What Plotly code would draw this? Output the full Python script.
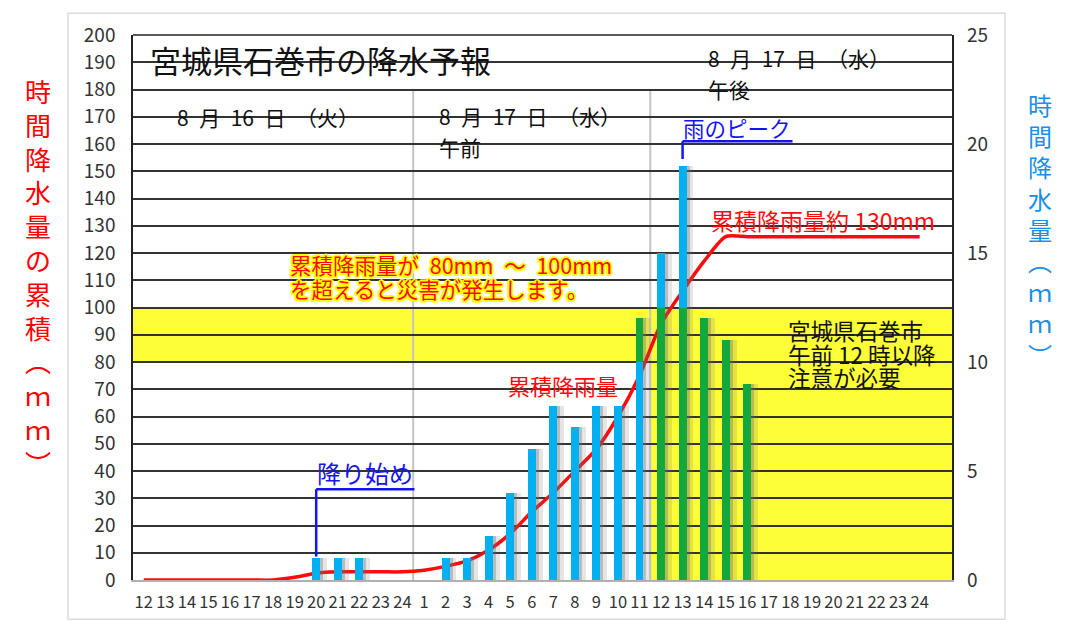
import plotly.graph_objects as go

# ---------------- data ----------------
hour_labels = [str(h) for h in range(12, 25)] + [str(h) for h in range(1, 25)]
# hourly precipitation (mm/h), right axis
rain_mm = [0, 0, 0, 0, 0, 0, 0, 0, 1, 1, 1, 0, 0,
           0, 1, 1, 2, 4, 6, 8, 7, 8, 8, 12, 15, 19, 12, 11, 9,
           0, 0, 0, 0, 0, 0, 0, 0]
# accumulated precipitation (mm), left axis
cum_mm = [0, 0, 0, 0, 0, 0, 0, 1, 2.5, 3, 3, 3, 3,
          3.6, 5, 7, 11, 17, 25, 32, 40, 48, 60, 75, 94, 106, 117,
          126, 126, 126, 126, 126, 126, 126, 126, 126, 126]
left_ticks = list(range(0, 201, 10))
right_ticks = list(range(0, 26, 5))

# ---------------- styles ----------------
FONT = "Noto Sans CJK JP"
BLUE_BAR = "#00b0f0"
GREEN_BAR = "#13a83b"
YELLOW = "#fdfd38"
RED = "#ff0a0a"
BLUE_TXT = "#1414f0"
RATIO = 8.0            # left / right axis scale
warn_lo, warn_hi = 80, 100      # full width yellow band (left axis units)
pm_start = 23.5                 # yellow to the ground from here on

x = list(range(len(hour_labels)))

# green part of bars = overlap of bar with yellow region
green_base, green_h = [], []
for i, v in enumerate(rain_mm):
    lo = 0 if i > pm_start else warn_lo / RATIO
    hi = warn_hi / RATIO
    h = max(0.0, min(v, hi) - lo)
    green_base.append(lo)
    green_h.append(h)

fig = go.Figure()

BW = 0.37
# shadows
fig.add_trace(go.Bar(x=x, y=rain_mm, yaxis="y2", width=0.34, offset=BW / 2 - 0.02,
                     marker=dict(color="rgba(110,110,110,0.18)", line=dict(width=0)),
                     hoverinfo="skip", showlegend=False))
fig.add_trace(go.Bar(x=x, y=rain_mm, yaxis="y2", width=0.16, offset=BW / 2 - 0.02,
                     marker=dict(color="rgba(110,110,110,0.35)", line=dict(width=0)),
                     hoverinfo="skip", showlegend=False))
# bars
fig.add_trace(go.Bar(x=x, y=rain_mm, yaxis="y2", width=BW, offset=-BW / 2,
                     marker=dict(color=BLUE_BAR, line=dict(width=0)), showlegend=False))
fig.add_trace(go.Bar(x=x, y=green_h, base=green_base, yaxis="y2", width=BW, offset=-BW / 2,
                     marker=dict(color=GREEN_BAR, line=dict(width=0)), showlegend=False))
# accumulated line
fig.add_trace(go.Scatter(x=x, y=cum_mm, yaxis="y", mode="lines",
                         line=dict(color=RED, width=3.5, shape="spline", smoothing=0.7),
                         showlegend=False))

shapes = [
    dict(type="rect", xref="paper", yref="y", x0=0, x1=1, y0=warn_lo, y1=warn_hi,
         fillcolor=YELLOW, line=dict(width=0), layer="below"),
    dict(type="rect", xref="x", yref="y", x0=pm_start, x1=len(hour_labels) + 0.5, y0=0, y1=warn_lo,
         fillcolor=YELLOW, line=dict(width=0), layer="below"),
    dict(type="line", xref="x", yref="y", x0=12.5, x1=12.5, y0=0, y1=180,
         line=dict(color="#c4c4c4", width=2), layer="below"),
    dict(type="line", xref="x", yref="y", x0=pm_start, x1=pm_start, y0=0, y1=180,
         line=dict(color="#c4c4c4", width=2), layer="below"),
    # top border
    dict(type="line", xref="paper", yref="paper", x0=0, x1=1, y0=1, y1=1,
         line=dict(color="#222", width=1.5)),
    # outer frame
    dict(type="rect", xref="paper", yref="paper", x0=-0.0794, x1=1.0647, y0=-0.072, y1=1.0398,
         line=dict(color="#dcdcdc", width=1.5)),
    # brackets
    dict(type="line", xref="x", yref="y", x0=8.0, x1=12.56, y0=33.3, y1=33.3,
         line=dict(color=BLUE_TXT, width=2.5)),
    dict(type="line", xref="x", yref="y", x0=8.0, x1=8.0, y0=33.3, y1=8.6,
         line=dict(color=BLUE_TXT, width=2.5)),
    dict(type="line", xref="x", yref="y", x0=25.0, x1=30.1, y0=161, y1=161,
         line=dict(color=BLUE_TXT, width=2.5)),
    dict(type="line", xref="x", yref="y", x0=25.0, x1=25.0, y0=161, y1=154.5,
         line=dict(color=BLUE_TXT, width=2.5)),
]

SP = "\u2002"
def ann(text, xv, yv, size, color="#111", **kw):
    d = dict(text=text, x=xv, y=yv, xref="x", yref="y", showarrow=False,
             xanchor="left", yanchor="middle", align="left",
             font=dict(family=FONT, size=size, color=color))
    d.update(kw)
    return d

def block(lines, glyph_px, pitch_px):
    """multi-line text whose line pitch is set independently of glyph size"""
    body = "<br>".join(f"<span style='font-size:{glyph_px}px'>{ln}</span>" for ln in lines)
    return body, pitch_px / 1.3

yl_shadow = ", ".join(f"{a}px {b}px 0 #ffff00" for a, b in
                      [(2, 0), (-2, 0), (0, 2), (0, -2), (1.5, 1.5), (-1.5, -1.5), (1.5, -1.5), (-1.5, 1.5)])

am_txt, am_sz = block([f"8{SP}月{SP}17{SP}日{SP}（水）", "午前"], 21, 31)
pm_txt, pm_sz = block([f"8{SP}月{SP}17{SP}日{SP}（水）", "午後"], 21, 30.5)
warn_txt, warn_sz = block([f"累積降雨量が{SP}80mm{SP}～{SP}100mm", "を超えると災害が発生します。"], 21.5, 24)
city_txt, city_sz = block(["宮城県石巻市", "午前 12 時以降", "注意が必要"], 22.5, 23.5)

annotations = [
    ann("宮城県石巻市の降水予報", 0.19, 191, 31),
    ann(f"8{SP}月{SP}16{SP}日{SP}（火）", 1.44, 170, 21),
    ann(am_txt, 13.62, 164.5, am_sz),
    ann(pm_txt, 26.07, 186.0, pm_sz),
    ann("雨のピーク", 24.92, 166, 21.5, BLUE_TXT),
    ann("降り始め", 7.93, 39.4, 24, BLUE_TXT),
    ann("累積降雨量", 16.81, 71.6, 22, RED),
    ann("累積降雨量約 130mm", 26.21, 132, 23, RED),
    ann(warn_txt, 6.68, 111.5, warn_sz, RED),
    ann(city_txt, 29.78, 83.2, city_sz),
    dict(text="<br>".join(list("時間降水量の累積") + ["︵", "ｍ", "ｍ", "︶"]),
         x=-0.116, y=0.557, xref="paper", yref="paper", showarrow=False,
         xanchor="center", yanchor="middle", align="center",
         font=dict(family=FONT, size=26, color="#ff0000")),
    dict(text="<br>".join(list("時間降水量") + ["︵", "ｍ", "ｍ", "︶"]),
         x=1.1075, y=0.644, xref="paper", yref="paper", showarrow=False,
         xanchor="center", yanchor="middle", align="center",
         font=dict(family=FONT, size=24, color="#1a8fe6")),
]
annotations[8]["font"]["shadow"] = yl_shadow

# the page body adds an 8px offset; compensate so the plot area sits where the reference has it
BODY = 8
fig.update_layout(
    width=1071 - BODY, height=628 - BODY,
    margin=dict(l=133 - BODY, r=119, t=27 - BODY, b=48),
    paper_bgcolor="white", plot_bgcolor="white",
    barmode="overlay", bargap=0,
    font=dict(family=FONT, color="#333"),
    shapes=shapes, annotations=annotations,
    xaxis=dict(range=[-0.5, len(hour_labels) + 0.5], tickmode="array", tickvals=x, ticktext=hour_labels,
               tickangle=0, showgrid=False, zeroline=False, showline=True, linecolor="#b0b0b0",
               linewidth=2, ticks="", tickfont=dict(family=FONT, size=16.5, color="#333"),
               ticklabelstandoff=6, fixedrange=True),
    yaxis=dict(range=[0, 200], tickmode="array", tickvals=left_ticks, showgrid=True,
               gridcolor="#333", gridwidth=1.5, zeroline=False, showline=True, linecolor="#222",
               linewidth=1.5, mirror=True, ticks="", tickfont=dict(family=FONT, size=19, color="#333"),
               ticklabelstandoff=12),
    yaxis2=dict(range=[0, 25], overlaying="y", side="right", tickmode="array", tickvals=right_ticks,
                showgrid=False, zeroline=False, showline=False, ticks="",
                tickfont=dict(family=FONT, size=19, color="#333"), ticklabelstandoff=14),
)

fig.write_html("out.html")
